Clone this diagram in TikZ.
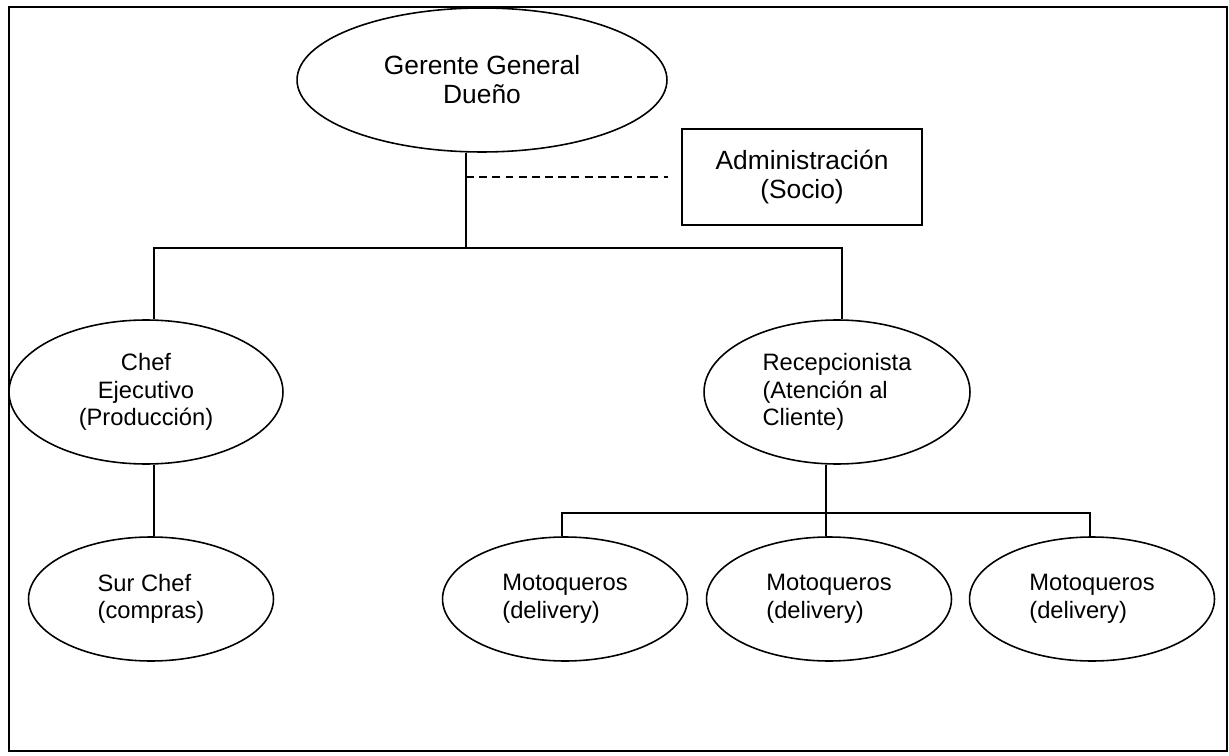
\documentclass[tikz,border=0pt]{standalone}
\usepackage{fontspec}
\setmainfont{Liberation Sans}
\usetikzlibrary{shapes.geometric}

\begin{document}
\begin{tikzpicture}
[x=0.02cm,y=-0.02cm,
marco/.style={draw=black,line width=1.4pt},
jefe/.style={ellipse,draw=black,line width=0.9pt,inner sep=0pt,minimum width=7.4cm,minimum height=2.88cm,align=center,font=\fontsize{15}{16.5}\selectfont},
caja/.style={rectangle,draw=black,line width=1.1pt,inner sep=0pt,minimum width=4.8cm,minimum height=1.92cm,align=center,font=\fontsize{15}{16.5}\selectfont},
area/.style={ellipse,draw=black,line width=0.9pt,inner sep=0pt,minimum height=2.88cm,align=center,font=\fontsize{13.5}{15.6}\selectfont},
base/.style={ellipse,draw=black,line width=0.9pt,inner sep=0pt,minimum width=4.9cm,minimum height=2.48cm,align=left,font=\fontsize{13.5}{15.6}\selectfont},
enlace/.style={draw=black,line width=0.75pt}]
\useasboundingbox (0,0) rectangle (1229,756);
\draw [marco] (9,7) rectangle (1227,751);

\node at (482,80)   [jefe] (gg)   {Gerente General\\Dueño};
\node at (802,177)  [caja] (adm)  {Administración\\(Socio)};
\node at (146,392)  [area,minimum width=5.48cm] (chef) {Chef\\Ejecutivo\\(Producción)};
\node at (837,392)  [area,minimum width=5.32cm,align=left] (rec) {Recepcionista\\(Atención al\\Cliente)};
\node at (151,599)  [base] (sur)   {Sur Chef\\(compras)};
\node at (565,599)  [base] (moto1) {Motoqueros\\(delivery)};
\node at (829,599)  [base] (moto2) {Motoqueros\\(delivery)};
\node at (1092,599) [base] (moto3) {Motoqueros\\(delivery)};

% puntos de quiebre
\coordinate (bm) at (466,248);
\coordinate (bl) at (154,248);
\coordinate (br) at (842,248);
\coordinate (dl) at (466,177);
\coordinate (dr) at (668,177);
\coordinate (mm) at (826,513);
\coordinate (ml) at (562,513);
\coordinate (mr) at (1090,513);

\draw [enlace] (gg.south -| bm) to (bm);
\draw [enlace,dash pattern=on 4.5pt off 3pt] (dl) to (dr);
\draw [enlace] (chef.north -| bl) -- (bl) -- (br) -- (rec.north -| br);
\draw [enlace] (chef.south -| bl) to (sur.north -| bl);
\draw [enlace] (rec.south -| mm) to (moto2.north -| mm);
\draw [enlace] (moto1.north -| ml) -- (ml) -- (mr) -- (moto3.north -| mr);
\end{tikzpicture}
\end{document}
